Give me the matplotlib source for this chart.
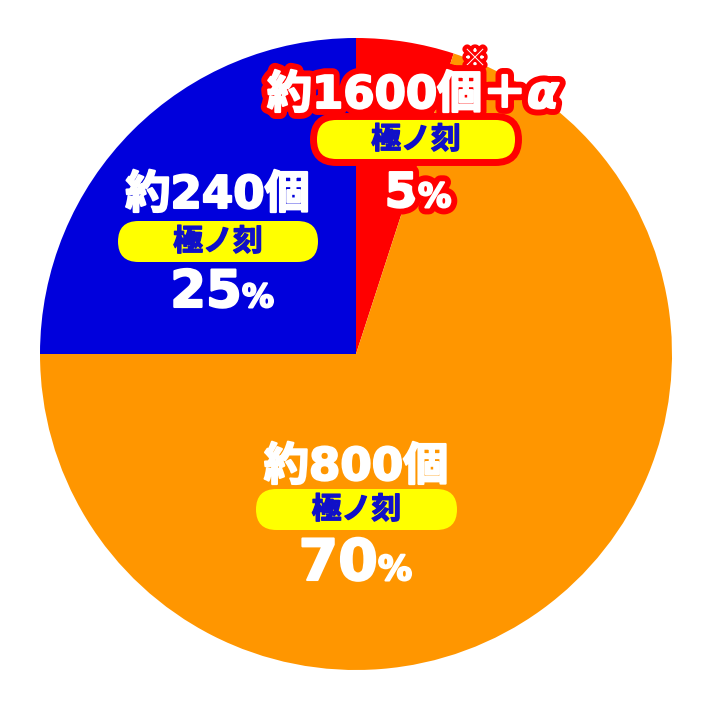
import matplotlib
matplotlib.use('Agg')
import matplotlib.pyplot as plt
import matplotlib.patheffects as pe
from matplotlib.patches import FancyBboxPatch

CJK = 'Noto Sans CJK JP'
LAT = 'DejaVu Sans'
plt.rcParams['font.family'] = [CJK, LAT]

# -- data --
mode = '極ノ刻'
shares = [5, 70, 25]          # red, orange, blue (clockwise from 12 o'clock)
counts = ['約1600個＋', '約800個', '約240個']
colors = ['#FF0000', '#FF9600', '#0000DC']

W, H = 712, 710
fig = plt.figure(figsize=(W / 100, H / 100), dpi=100)
ax = fig.add_axes([0, 0, 1, 1])
ax.pie(shares, colors=colors, startangle=90, counterclock=False,
       center=(356, H - 354), radius=316, wedgeprops=dict(linewidth=0))
ax.set_xlim(0, W)
ax.set_ylim(0, H)
ax.axis('off')

bold_w = [pe.Stroke(linewidth=1.5, foreground='white'), pe.Normal()]
red_out = [pe.Stroke(linewidth=10, foreground='#FF0000'),
           pe.Stroke(linewidth=1.5, foreground='white'), pe.Normal()]
bold_b = [pe.Stroke(linewidth=1.0, foreground='#1010C8'), pe.Normal()]

# per slice layout (pixels, y from top)
layout = [
    dict(cx=267, ha='left', base=108, fs=32.4, pill=(313.5, 518.5, 116.5, 162.5),
         split=418, pbase=207, pfs=34.5, sfs=24, fx=red_out, edge=True),
    dict(cx=356, ha='center', base=480, fs=32.5, pill=(256, 457, 489, 530),
         split=378, pbase=580, pfs=41, sfs=24.5, fx=bold_w, edge=False),
    dict(cx=217.5, ha='center', base=208, fs=32.5, pill=(118, 318, 221, 262),
         split=242, pbase=307, pfs=37, sfs=23, fx=bold_w, edge=False),
]

main_top = None
for i, L in enumerate(layout):
    t = ax.text(L['cx'], H - L['base'], counts[i], ha=L['ha'], va='baseline',
                fontsize=L['fs'], family=[LAT, CJK], fontweight='bold',
                color='white', path_effects=L['fx'], zorder=6)
    if i == 0:
        main_top = t
    x0, x1, y0, y1 = L['pill']
    h = y1 - y0
    ax.add_patch(FancyBboxPatch((x0, H - y1), x1 - x0, h,
                                boxstyle=f'round,pad=0,rounding_size={h / 2}',
                                facecolor='#FFFF00',
                                edgecolor='#FF0000' if L['edge'] else 'none',
                                linewidth=5 if L['edge'] else 0, zorder=3))
    ax.text((x0 + x1) / 2, H - (y0 + y1) / 2, mode, ha='center', va='center',
            fontsize=21.5, family=CJK, fontweight='bold', color='#1010C8',
            path_effects=bold_b, zorder=4)
    ax.text(L['split'], H - L['pbase'], str(shares[i]), ha='right', va='baseline',
            fontsize=L['pfs'], family=LAT, fontweight='bold', color='white',
            path_effects=L['fx'], zorder=5)
    ax.text(L['split'], H - L['pbase'], '%', ha='left', va='baseline',
            fontsize=L['sfs'], family=LAT, fontweight='bold', color='white',
            path_effects=L['fx'], zorder=5)

# alpha and reference mark on the red label
ax.annotate('α', xy=(1, H - 108), xycoords=(main_top, 'data'),
            xytext=(0, 0), textcoords='offset pixels', ha='left', va='baseline',
            fontsize=33, family=LAT, fontweight='bold', fontstyle='oblique',
            color='white', path_effects=red_out, zorder=5)
ax.text(475, H - 59, '※', ha='center', va='center', fontsize=17, family=CJK,
        fontweight='bold', color='white',
        path_effects=[pe.Stroke(linewidth=6, foreground='#FF0000'), pe.Normal()], zorder=5)

fig.savefig('out.png', dpi=100)
